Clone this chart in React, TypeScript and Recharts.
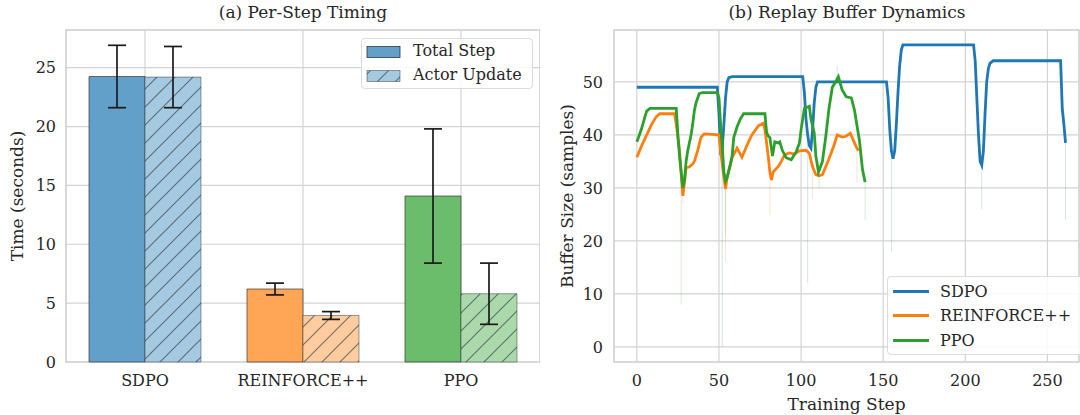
import React from 'react';
import {
  BarChart,
  Bar,
  LineChart,
  Line,
  XAxis,
  YAxis,
  CartesianGrid,
  ErrorBar,
  Cell,
  ReferenceArea,
} from 'recharts';

// (a) per-step timing
const METHODS = ['SDPO', 'REINFORCE++', 'PPO'];
const TOTAL_STEP = [24.25, 6.2, 14.1];
const TOTAL_STEP_ERR = [2.65, 0.5, 5.7];
const ACTOR_UPDATE = [24.2, 3.95, 5.8];
const ACTOR_UPDATE_ERR = [2.6, 0.33, 2.6];
const TIME_TICKS = [0, 5, 10, 15, 20, 25];

// (b) replay buffer dynamics (smoothed curves)
const SDPO_STEPS = [0, 49, 50, 51, 52, 53, 54, 55, 56, 58, 101, 102, 103, 104, 105, 106, 107, 108, 109, 110, 152, 153, 154, 155, 156, 157, 158, 159, 160, 161, 162, 205, 206, 207, 208, 209, 210, 211, 212, 213, 214, 215, 217, 258, 259, 260, 261];
const SDPO_SIZE = [49, 49, 44, 37, 37.5, 42, 47, 50, 50.8, 51, 51, 48, 43, 40, 38, 37.5, 41, 46, 49, 50, 50, 47, 41, 37, 35.5, 37, 42, 48, 53, 56, 57, 57, 54, 47, 40, 35, 34.3, 37, 44, 50, 52.5, 53.5, 54, 54, 45, 42, 38.5];

const RPP_STEPS = [0, 3, 6, 9, 12, 14, 23, 24, 26, 28, 29, 30, 32, 34, 35, 37, 39, 41, 50, 51, 53, 54, 55, 57, 58, 61, 64, 67, 70, 74, 77, 78, 80, 81, 82, 83, 86, 88, 90, 93, 96, 99, 103, 105, 107, 109, 111, 113, 115, 117, 120, 122, 125, 127, 130, 131, 132.5, 134, 135];
const RPP_SIZE = [35.8, 38, 40, 42, 43.5, 44, 44, 42, 37, 28.5, 31, 33.8, 34, 34.5, 35, 37, 39.5, 40.2, 40, 37, 32, 29.8, 32, 34.5, 35.7, 37.5, 35.8, 38, 40, 41.7, 42.2, 41, 36, 33, 31.5, 33, 34, 35, 36.3, 36.6, 36.4, 37, 37.1, 36.5, 34, 32.5, 32.3, 32.5, 34, 35.5, 38, 40, 39.6, 39.7, 40.3, 39.6, 38.5, 37.5, 37];

const PPO_STEPS = [0, 1, 3, 5, 6, 8, 24, 25, 26, 27, 28, 29, 30, 31, 33, 34, 35, 36, 38, 40, 49, 50, 51, 52, 53, 54, 55, 57, 58, 59, 61, 63, 65, 78, 79, 80, 81, 82.6, 84, 86, 87, 88.7, 91, 94, 97, 99, 100, 102, 105, 106, 108, 109, 110.6, 113, 115, 117, 119, 121, 122.7, 125, 127.5, 130.6, 132.5, 135.5, 137.4, 139];
const PPO_SIZE = [38.7, 39.5, 41.3, 43.5, 44.5, 45, 45, 40, 36, 33, 30, 31.5, 35, 37, 40, 42, 44.5, 46, 47.8, 48, 48, 47, 42, 38, 33, 31.3, 32, 34.5, 36, 39.5, 41.5, 43, 44, 44, 40.5, 39.8, 39.5, 36, 38.7, 38.5, 38.7, 37, 35.7, 35.3, 36.8, 38.5, 41, 45, 45.4, 43, 40.4, 36, 33, 35, 39.6, 45, 49, 50, 51, 48.5, 47.2, 47, 44.7, 39, 33.4, 31.1];

// raw (unsmoothed) spikes, drawn faintly
const SDPO_SPIKE_STEPS = [52, 104, 155, 210, 261];
const SDPO_SPIKE_FROM = [38, 40, 37, 35, 40];
const SDPO_SPIKE_TO = [0, 12, 18, 26, 24];
const RPP_SPIKE_STEPS = [28, 54, 81, 107, 134];
const RPP_SPIKE_FROM = [30, 31, 33, 33, 38];
const RPP_SPIKE_TO = [27, 16, 25, 28, 31];
const PPO_SPIKE_STEPS = [27, 54, 111, 122, 139];
const PPO_SPIKE_FROM = [32, 32, 33, 50, 31];
const PPO_SPIKE_TO = [8, 21, 30, 53, 24];

const STEP_TICKS = [0, 50, 100, 150, 200, 250];
const SIZE_TICKS = [0, 10, 20, 30, 40, 50];

const BASE = ['#1f77b4', '#ff7f0e', '#2ca02c'];
const SOLID = ['#62a0ca', '#ffa556', '#6bbc6b'];
const LIGHT = ['#a5c9e1', '#ffcc9f', '#abd9ab'];

const FONT = '"DejaVu Serif", serif';
const TEXT = '#262626';
const GRID = '#d3d3d3';

const barData = METHODS.map((name, i) => ({
  name,
  total: TOTAL_STEP[i],
  totalErr: TOTAL_STEP_ERR[i],
  actor: ACTOR_UPDATE[i],
  actorErr: ACTOR_UPDATE_ERR[i],
}));

const toSeries = (steps: number[], vals: number[]) => steps.map((step, i) => ({ step, value: vals[i] }));
const toSpikes = (steps: number[], from: number[], to: number[]) =>
  steps.flatMap((step, i) => [
    { step, value: from[i] },
    { step, value: to[i] },
    { step, value: null },
  ]);

const LINES = [
  { name: 'SDPO', color: BASE[0], data: toSeries(SDPO_STEPS, SDPO_SIZE), raw: toSpikes(SDPO_SPIKE_STEPS, SDPO_SPIKE_FROM, SDPO_SPIKE_TO) },
  { name: 'REINFORCE++', color: BASE[1], data: toSeries(RPP_STEPS, RPP_SIZE), raw: toSpikes(RPP_SPIKE_STEPS, RPP_SPIKE_FROM, RPP_SPIKE_TO) },
  { name: 'PPO', color: BASE[2], data: toSeries(PPO_STEPS, PPO_SIZE), raw: toSpikes(PPO_SPIKE_STEPS, PPO_SPIKE_FROM, PPO_SPIKE_TO) },
];

const tickStyle = { fill: TEXT, fontSize: 16, fontFamily: FONT };
const labelStyle = { textAnchor: 'middle' as const, fill: TEXT, fontSize: 17, fontFamily: FONT };

function HatchDefs({ prefix }: { prefix: string }) {
  return (
    <defs>
      {LIGHT.map((c, i) => (
        <pattern key={i} id={`${prefix}-${i}`} patternUnits="userSpaceOnUse" width={18} height={18}>
          <rect width={18} height={18} fill={c} />
          <path d="M0,18 L18,0 M-4.5,4.5 L4.5,-4.5 M13.5,22.5 L22.5,13.5" stroke="#33404c" strokeOpacity={0.65} strokeWidth={1.2} />
        </pattern>
      ))}
    </defs>
  );
}

export default function App() {
  return (
    <div style={{ position: 'absolute', left: 0, top: 0, width: 1080, height: 415, background: '#fff', fontFamily: FONT, color: TEXT, overflow: 'hidden' }}>
      {/* (a) Per-Step Timing */}
      <div style={{ position: 'absolute', left: 0, top: 0 }}>
        <BarChart width={540} height={415} data={barData} margin={{ top: 30, right: 0, bottom: 0, left: 0 }} barCategoryGap={23} barGap={0}>
          <HatchDefs prefix="hatch" />
          <CartesianGrid stroke={GRID} strokeWidth={1.2} />
          <ReferenceArea y1={0} y2={28.2} fill="none" stroke={GRID} strokeWidth={1.4} />
          <XAxis dataKey="name" height={53} tickLine={false} axisLine={false} tickSize={0} tickMargin={13} tick={tickStyle} />
          <YAxis
            type="number"
            domain={[0, 28.2]}
            ticks={TIME_TICKS}
            interval={0}
            width={66}
            tickLine={false}
            axisLine={false}
            tickSize={0}
            tickMargin={10}
            tick={tickStyle}
            label={{ value: 'Time (seconds)', angle: -90, position: 'insideLeft', offset: 17, style: labelStyle }}
          />
          <Bar dataKey="total" isAnimationActive={false} stroke="#333" strokeOpacity={0.85} strokeWidth={0.8}>
            {barData.map((d, i) => (
              <Cell key={d.name} fill={SOLID[i]} />
            ))}
            <ErrorBar dataKey="totalErr" width={9} strokeWidth={1.7} stroke="#1a1a1a" />
          </Bar>
          <Bar dataKey="actor" isAnimationActive={false} stroke="#333" strokeOpacity={0.6} strokeWidth={0.8}>
            {barData.map((d, i) => (
              <Cell key={d.name} fill={`url(#hatch-${i})`} />
            ))}
            <ErrorBar dataKey="actorErr" width={9} strokeWidth={1.7} stroke="#1a1a1a" />
          </Bar>
        </BarChart>
      </div>
      <div style={{ position: 'absolute', left: 193, top: 2, width: 220, textAlign: 'center', fontSize: 17, whiteSpace: 'nowrap' }}>
        (a) Per-Step Timing
      </div>

      {/* legend (a) */}
      <div style={{ position: 'absolute', left: 361, top: 38, width: 170, height: 49, border: '1px solid #dcdcdc', borderRadius: 4, background: 'rgba(255,255,255,0.85)', fontSize: 16 }}>
        <svg width={36} height={50} style={{ position: 'absolute', left: 4, top: 0 }}>
          <HatchDefs prefix="lg-hatch" />
          <rect x={1} y={7.5} width={33} height={11} fill={SOLID[0]} stroke="#333" strokeWidth={0.8} />
          <rect x={1} y={31.5} width={33} height={11} fill="url(#lg-hatch-0)" stroke="#333" strokeOpacity={0.6} strokeWidth={0.8} />
        </svg>
        <div style={{ position: 'absolute', left: 51, top: 2, whiteSpace: 'nowrap' }}>Total Step</div>
        <div style={{ position: 'absolute', left: 51, top: 26, whiteSpace: 'nowrap' }}>Actor Update</div>
      </div>

      {/* (b) Replay Buffer Dynamics */}
      <div style={{ position: 'absolute', left: 540, top: 0 }}>
        <LineChart width={540} height={415} margin={{ top: 30, right: 1, bottom: 0, left: 0 }}>
          <CartesianGrid stroke={GRID} strokeWidth={1.2} />
          <ReferenceArea y1={-2.85} y2={59.8} fill="none" stroke={GRID} strokeWidth={1.4} />
          <XAxis
            type="number"
            dataKey="step"
            domain={[-13.9, 269.2]}
            allowDataOverflow
            ticks={STEP_TICKS}
            interval={0}
            height={53}
            tickLine={false}
            axisLine={false}
            tickSize={0}
            tickMargin={13}
            tick={tickStyle}
            label={{ value: 'Training Step', position: 'insideBottom', offset: 5, style: labelStyle }}
          />
          <YAxis
            type="number"
            domain={[-2.85, 59.8]}
            allowDataOverflow
            ticks={SIZE_TICKS}
            interval={0}
            width={74}
            tickLine={false}
            axisLine={false}
            tickSize={0}
            tickMargin={11}
            tick={tickStyle}
            label={{ value: 'Buffer Size (samples)', angle: -90, position: 'insideLeft', offset: 27, style: labelStyle }}
          />
          {LINES.map((s) => (
            <Line
              key={`${s.name}-raw`}
              data={s.raw}
              dataKey="value"
              type="linear"
              stroke={s.color}
              strokeOpacity={0.2}
              strokeWidth={1}
              dot={false}
              activeDot={false}
              connectNulls={false}
              isAnimationActive={false}
            />
          ))}
          {LINES.map((s) => (
            <Line
              key={s.name}
              data={s.data}
              dataKey="value"
              name={s.name}
              type="linear"
              stroke={s.color}
              strokeWidth={2.8}
              dot={false}
              activeDot={false}
              isAnimationActive={false}
            />
          ))}
        </LineChart>
      </div>
      <div style={{ position: 'absolute', left: 717, top: 2, width: 260, textAlign: 'center', fontSize: 17, whiteSpace: 'nowrap' }}>
        (b) Replay Buffer Dynamics
      </div>

      {/* legend (b) */}
      <div style={{ position: 'absolute', left: 887, top: 276, width: 200, height: 77, border: '1px solid #dcdcdc', borderRadius: 4, background: 'rgba(255,255,255,0.85)', fontSize: 16 }}>
        {LINES.map((s, i) => (
          <div key={s.name} style={{ position: 'absolute', left: 5, top: 3 + i * 24.5, height: 22, display: 'flex', alignItems: 'center', whiteSpace: 'nowrap' }}>
            <span style={{ display: 'inline-block', width: 36, height: 3, background: s.color, marginRight: 11 }} />
            {s.name}
          </div>
        ))}
      </div>
    </div>
  );
}
